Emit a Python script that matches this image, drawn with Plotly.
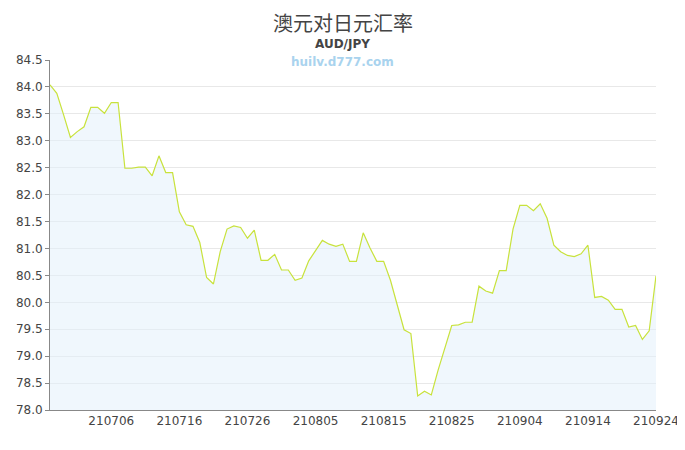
import datetime as dt
import plotly.graph_objects as go

start = dt.date(2021, 6, 27)
dates = [(start + dt.timedelta(days=i)).strftime("%y%m%d") for i in range(90)]

rates = [
    84.04, 83.88, 83.48, 83.06, 83.17, 83.26, 83.62, 83.62, 83.51, 83.71,
    83.71, 82.49, 82.49, 82.51, 82.51, 82.35, 82.72, 82.41, 82.41, 81.68,
    81.44, 81.41, 81.11, 80.46, 80.34, 80.94, 81.36, 81.42, 81.39, 81.19,
    81.34, 80.78, 80.78, 80.89, 80.60, 80.60, 80.41, 80.45, 80.77, 80.97,
    81.15, 81.08, 81.04, 81.08, 80.76, 80.76, 81.29, 81.01, 80.76, 80.76,
    80.41, 79.95, 79.49, 79.42, 78.26, 78.35, 78.28, 78.74, 79.16, 79.57,
    79.58, 79.63, 79.63, 80.30, 80.21, 80.17, 80.59, 80.59, 81.36, 81.80,
    81.80, 81.70, 81.83, 81.56, 81.06, 80.94, 80.87, 80.85, 80.90, 81.06,
    80.09, 80.11, 80.04, 79.87, 79.87, 79.54, 79.57, 79.31, 79.47, 80.49,
]

tick_labels = dates[9::10]
y_ticks = [78.0 + 0.5 * k for k in range(14)]

OFF = 8  # browser body margin
W, Hh = 685 - OFF, 450 - OFF
L, T, B, R = 50 - OFF, 60 - OFF, 40, 29
PH = Hh - T - B  # plot height
PW = W - L - R   # plot width

def py(ypix_page):
    ylay = ypix_page - OFF
    return (Hh - B - ylay) / PH

def px(xpix_page):
    return (xpix_page - OFF - L) / PW

fig = go.Figure()
fig.add_trace(go.Scatter(
    x=dates, y=rates, mode="lines",
    line=dict(color="#c8e23c", width=1.2),
    fill="tozeroy", fillcolor="rgba(225,240,252,0.5)",
    hoverinfo="x+y",
))

fig.update_layout(
    width=W, height=Hh,
    margin=dict(l=L, r=R, t=T, b=B, autoexpand=False),
    paper_bgcolor="white", plot_bgcolor="white",
    showlegend=False,
    font=dict(family="DejaVu Sans, sans-serif", size=12, color="#333"),
)
cx = px(342.5)
fig.add_annotation(text="澳元对日元汇率", x=cx, xref="paper", y=py(22), yref="paper",
                   showarrow=False, yanchor="middle",
                   font=dict(family="Noto Sans CJK SC", size=20, color="#444"))
fig.add_annotation(text="<b>AUD/JPY</b>", x=cx, xref="paper", y=py(44), yref="paper",
                   showarrow=False, yanchor="middle",
                   font=dict(family="DejaVu Sans", size=12, color="#444"))
fig.add_annotation(text="<b>huilv.d777.com</b>", x=cx, xref="paper", y=py(62), yref="paper",
                   showarrow=False, yanchor="middle",
                   font=dict(family="DejaVu Sans", size=12, color="#a9d3ee"))

fig.update_xaxes(
    type="category", range=[0, 89], automargin=False,
    tickmode="array", tickvals=tick_labels, ticktext=tick_labels,
    showgrid=False, showline=True, linecolor="#888", linewidth=1,
    ticks="", tickfont=dict(size=12, color="#444"),
)
fig.update_yaxes(
    range=[78.0, 84.5], tickmode="array", tickvals=y_ticks, automargin=False,
    ticktext=[f"{v:.1f}" for v in y_ticks],
    showgrid=True, gridcolor="#e8e8e8", gridwidth=1,
    showline=True, linecolor="#888", linewidth=1,
    ticks="outside", ticklen=4, tickcolor="#888",
    tickfont=dict(size=12, color="#444"), zeroline=False,
)

fig.write_html("out.html")
